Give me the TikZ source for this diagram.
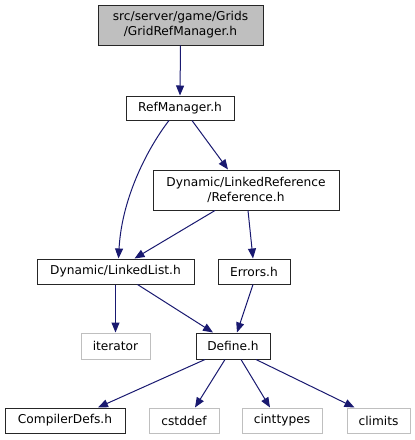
\documentclass[tikz,border=0pt]{standalone}
\usepackage{fontspec}
\setmainfont{DejaVu Sans}
\usetikzlibrary{arrows.meta,calc}
\definecolor{edgeblue}{HTML}{191970}
\definecolor{boxgray}{HTML}{BFBFBF}
\definecolor{extgray}{HTML}{BFBFBF}
\begin{document}
\begin{tikzpicture}[x=1pt,y=-1pt,
  base/.style={rectangle,inner sep=0pt,font=\fontsize{12.2}{15}\selectfont,align=center,line width=1pt},
  file/.style={base,draw=black!85},
  ext/.style={base,draw=extgray},
  edge/.style={draw=edgeblue,line width=1pt,-{Triangle[length=10pt,width=8pt]},color=edgeblue}]
\useasboundingbox (0,0) rectangle (415,440);
\node[file,fill=boxgray,minimum width=165pt,minimum height=40pt] (top) at (180.5,25) {src/server/game/Grids\\/GridRefManager.h};
\node[file,minimum width=108pt,minimum height=24pt] (rm) at (180,108) {RefManager.h};
\node[file,minimum width=186pt,minimum height=40pt] (ref) at (246,190) {Dynamic/LinkedReference\\/Reference.h};
\node[file,minimum width=157pt,minimum height=25pt] (ll) at (115.5,271.5) {Dynamic/LinkedList.h};
\node[file,minimum width=72pt,minimum height=25pt] (err) at (254,271.5) {Errors.h};
\node[ext,minimum width=69pt,minimum height=26pt] (it) at (115.5,346) {iterator};
\node[file,minimum width=74pt,minimum height=26pt] (def) at (233,346) {Define.h};
\node[file,minimum width=120pt,minimum height=25pt] (cd) at (65,420.5) {CompilerDefs.h};
\node[ext,minimum width=70pt,minimum height=25pt] (cs) at (184,420.5) {cstddef};
\node[ext,minimum width=80pt,minimum height=25pt] (ci) at (282,420.5) {cinttypes};
\node[ext,minimum width=63pt,minimum height=25pt] (cl) at (378.5,420.5) {climits};

\draw[edge] (top.south) -- (rm.north);
\draw[edge] ([xshift=-11pt]rm.south) .. controls (150,145) and (122,195) .. ([xshift=3pt]ll.north);
\draw[edge] ([xshift=12pt]rm.south) -- ([xshift=-18pt]ref.north);
\draw[edge] ([xshift=-31pt]ref.south) -- ([xshift=19pt]ll.north);
\draw[edge] ([xshift=2pt]ref.south) -- ([xshift=-1pt]err.north);
\draw[edge] (ll.south) -- (it.north);
\draw[edge] ([xshift=22pt]ll.south) -- ([xshift=-20pt]def.north);
\draw[edge] ([xshift=-1pt]err.south) -- ([xshift=4pt]def.north);
\draw[edge] ([xshift=-28pt]def.south) -- ([xshift=33pt]cd.north);
\draw[edge] ([xshift=-8pt]def.south) -- ([xshift=11pt]cs.north);
\draw[edge] ([xshift=8pt]def.south) -- ([xshift=-12pt]ci.north);
\draw[edge] ([xshift=23pt]def.south) -- ([xshift=-24pt]cl.north);
\end{tikzpicture}
\end{document}
